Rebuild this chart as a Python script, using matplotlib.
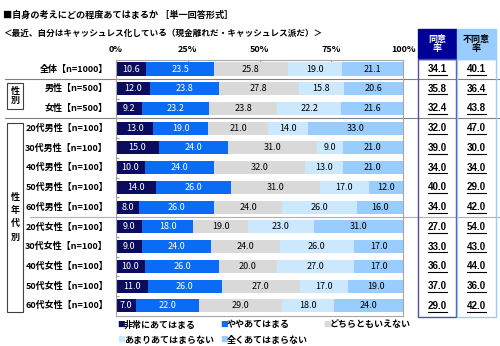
# coding=utf-8
import matplotlib
matplotlib.use('Agg')
import matplotlib.pyplot as plt
import matplotlib.transforms as mtransforms
from matplotlib.patches import Rectangle
from matplotlib.lines import Line2D
import numpy as np

plt.rcParams['font.family'] = ['Noto Sans CJK JP', 'DejaVu Sans']

# データ
labels = ['全体【n=1000】', '男性【n=500】', '女性【n=500】',
          '20代男性【n=100】', '30代男性【n=100】', '40代男性【n=100】',
          '50代男性【n=100】', '60代男性【n=100】',
          '20代女性【n=100】', '30代女性【n=100】', '40代女性【n=100】',
          '50代女性【n=100】', '60代女性【n=100】']
very_true = [10.6, 12.0, 9.2, 13.0, 15.0, 10.0, 14.0, 8.0, 9.0, 9.0, 10.0, 11.0, 7.0]
some_true = [23.5, 23.8, 23.2, 19.0, 24.0, 24.0, 26.0, 26.0, 18.0, 24.0, 26.0, 26.0, 22.0]
neither = [25.8, 27.8, 23.8, 21.0, 31.0, 32.0, 31.0, 24.0, 19.0, 24.0, 20.0, 27.0, 29.0]
not_much = [19.0, 15.8, 22.2, 14.0, 9.0, 13.0, 17.0, 26.0, 23.0, 26.0, 27.0, 17.0, 18.0]
not_at_all = [21.1, 20.6, 21.6, 33.0, 21.0, 21.0, 12.0, 16.0, 31.0, 17.0, 17.0, 19.0, 24.0]
agree = [34.1, 35.8, 32.4, 32.0, 39.0, 34.0, 40.0, 34.0, 27.0, 33.0, 36.0, 37.0, 29.0]
disagree = [40.1, 36.4, 43.8, 47.0, 30.0, 34.0, 29.0, 42.0, 54.0, 43.0, 44.0, 36.0, 42.0]
series_names = ['非常にあてはまる', 'ややあてはまる', 'どちらともいえない',
                'あまりあてはまらない', '全くあてはまらない']
colors = ['#0c0c5e', '#0a6cf5', '#d9d9d9', '#cce8ff', '#99ccff']
text_colors = ['white', 'white', 'black', 'black', 'black']

W, H = 500.0, 346.0


def fx(x):
    return x / W


def fy(y):
    return 1 - y / H


fig = plt.figure(figsize=(5, 3.46), dpi=100)
ax = fig.add_axes([fx(116), fy(316), fx(403) - fx(116), fy(60) - fy(316)])
ax.patch.set_visible(False)

rows = np.arange(len(labels))
left = np.zeros(len(labels))
for vals, c, tc in zip([very_true, some_true, neither, not_much, not_at_all], colors, text_colors):
    vals = np.array(vals)
    ax.barh(rows, vals, left=left, height=0.66, color=c, zorder=2)
    for i, v in enumerate(vals):
        ax.text(left[i] + v / 2, i, '%.1f' % v, ha='center', va='center',
                fontsize=6.5, color=tc, zorder=3)
    left += vals

ax.set_xlim(0, 100)
ax.set_ylim(12.51, -0.456)
ax.xaxis.tick_top()
ax.set_xticks([0, 25, 50, 75, 100])
ax.set_xticklabels(['0%', '25%', '50%', '75%', '100%'], fontsize=6.5, fontweight='bold')
ax.tick_params(axis='x', direction='in', length=3, pad=4, color='#999999')
ax.set_yticks(rows[:-1] + 0.5)
ax.set_yticklabels([])
ax.tick_params(axis='y', direction='in', length=2, color='#999999')
for s in ax.spines.values():
    s.set_color('#a6a6a6')
    s.set_linewidth(0.8)

trans = mtransforms.blended_transform_factory(fig.transFigure, ax.transData)

# 行ラベル
for i, lab in enumerate(labels):
    ax.text(fx(108), i, lab, transform=trans, ha='right', va='center',
            fontsize=6.5, fontweight='bold', clip_on=False)

# 同意率・不同意率（下線付き）
for col_x, vals in [(437, agree), (476.5, disagree)]:
    for i in rows:
        ax.text(fx(col_x), i, '%.1f' % vals[i], transform=trans, ha='center',
                va='center', fontsize=7, fontweight='bold',
                family=['Liberation Sans', 'DejaVu Sans'], clip_on=False)
        ax.add_line(Line2D([fx(col_x - 9.5), fx(col_x + 9.5)], [i + 0.29, i + 0.29],
                           transform=trans, color='black', linewidth=0.8, clip_on=False))

# 区切り線
for yv, x0, c in [(0.5, 5, '#808080'), (2.5, 5, '#808080'), (7.5, 30, '#b0b0b0')]:
    ax.add_line(Line2D([fx(x0), 1.0], [yv, yv], transform=trans, color=c,
                       linewidth=0.8, zorder=1, clip_on=False))

# 右の列枠とヘッダー
fig.add_artist(Rectangle((fx(418), fy(59)), fx(38), fy(29) - fy(59),
                         transform=fig.transFigure, facecolor='#000099', edgecolor='#000099'))
fig.add_artist(Rectangle((fx(457), fy(59)), fx(39), fy(29) - fy(59),
                         transform=fig.transFigure, facecolor='#99ccff', edgecolor='#99ccff'))
fig.text(fx(437), fy(44), '同意\n率', ha='center', va='center', fontsize=6.5,
         fontweight='bold', color='white', linespacing=1.1)
fig.text(fx(476.5), fy(44), '不同意\n率', ha='center', va='center', fontsize=6.5,
         fontweight='bold', color='black', linespacing=1.1)
fig.add_artist(Rectangle((fx(418), fy(317)), fx(38), fy(59) - fy(317),
                         transform=fig.transFigure, facecolor='none', edgecolor='#4d4db3',
                         linewidth=1.0))
fig.add_artist(Rectangle((fx(457), fy(317)), fx(39), fy(59) - fy(317),
                         transform=fig.transFigure, facecolor='none', edgecolor='#99ccff',
                         linewidth=1.0))

# 左のグループ枠
fig.add_artist(Rectangle((fx(7), fy(109)), fx(16), fy(83) - fy(109),
                         transform=fig.transFigure, facecolor='white', edgecolor='#404040',
                         linewidth=0.8))
fig.text(fx(15), fy(96), '性\n別', ha='center', va='center', fontsize=6.5,
         fontweight='bold', linespacing=1.1)
fig.add_artist(Rectangle((fx(7), fy(312)), fx(16), fy(123) - fy(312),
                         transform=fig.transFigure, facecolor='white', edgecolor='#404040',
                         linewidth=0.8))
fig.text(fx(15), fy(217), '性\n年\n代\n別', ha='center', va='center', fontsize=6.5,
         fontweight='bold', linespacing=1.6)

# タイトル
fig.text(fx(3), fy(15), '■自身の考えにどの程度あてはまるか ［単一回答形式］', ha='left',
         va='center', fontsize=6.6, fontweight='bold')
fig.text(fx(3), fy(33), '＜最近、自分はキャッシュレス化している（現金離れだ・キャッシュレス派だ）＞',
         ha='left', va='center', fontsize=6.2, fontweight='bold')

# 凡例
leg_pos = [(117, 325), (220, 325), (323, 325), (117, 340), (220, 340)]
for (lx, ly), name, c in zip(leg_pos, series_names, colors):
    fig.text(fx(lx), fy(ly), '■', ha='left', va='center', fontsize=5.5, color=c)
    fig.text(fx(lx + 7), fy(ly), name, ha='left', va='center', fontsize=6.5,
             fontweight='bold')

fig.savefig('out.png', dpi=100)
